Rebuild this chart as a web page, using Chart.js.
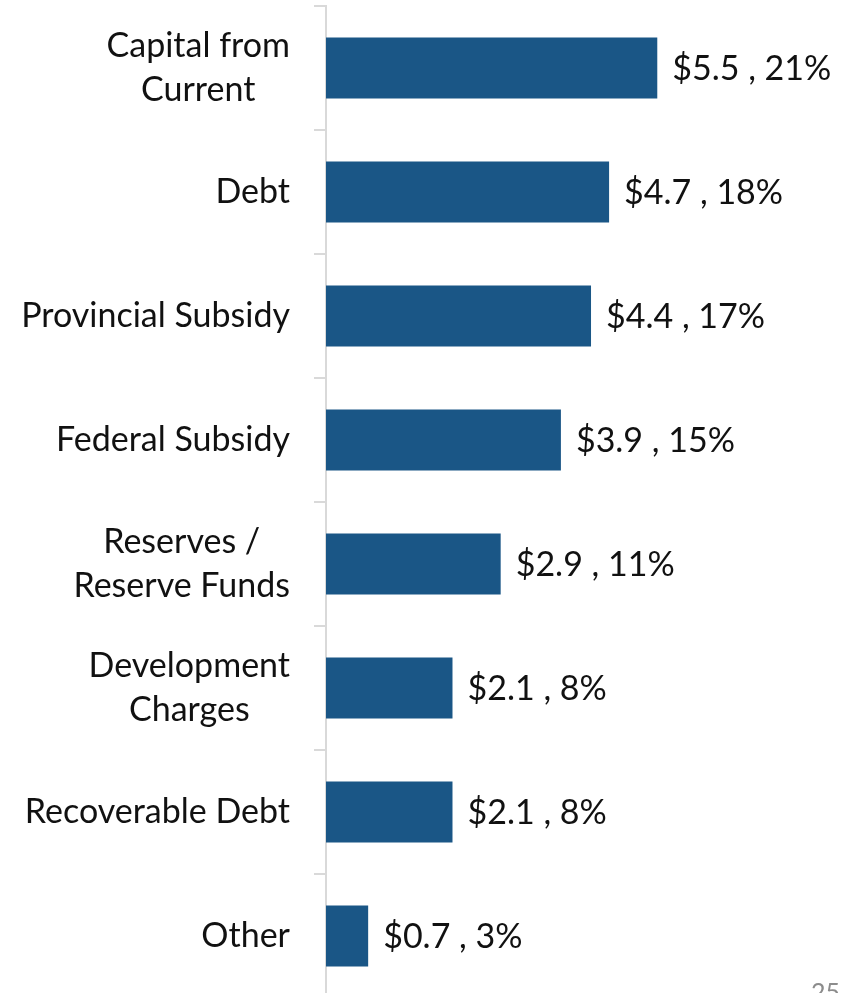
<!DOCTYPE html>
<html>
<head>
<meta charset="utf-8">
<script src="https://cdn.jsdelivr.net/npm/chart.js@4/dist/chart.umd.min.js"></script>
<style>
  html, body { margin: 0; padding: 0; background: #fff; overflow: hidden; width: 844px; height: 993px; }
  #wrap { position: absolute; left: 0; top: 0; width: 844px; height: 1000px; }
  #pageNo { position: absolute; left: 811px; top: 976px; font: 25px Lato, sans-serif; color: #8c8c8c; }
</style>
</head>
<body>
<div id="wrap"><canvas id="chart"></canvas></div>
<div id="pageNo">25</div>
<script>
// Capital funding sources ($ billions, share of total)
const categories = [
  ['Capital from', 'Current'],
  ['Debt'],
  ['Provincial Subsidy'],
  ['Federal Subsidy'],
  ['Reserves /', 'Reserve Funds'],
  ['Development', 'Charges'],
  ['Recoverable Debt'],
  ['Other']
];
const amounts = [5.5, 4.7, 4.4, 3.9, 2.9, 2.1, 2.1, 0.7];
const shares = [21, 18, 17, 15, 11, 8, 8, 3];

const FONT = 'Lato, "Open Sans", sans-serif';
const LABEL_SIZE = 34;
const LINE_H = 44;
const TICK_LEN = 12;
const LABEL_GAP = 24;

// Category names, each centred on its own widest line, right edge next to the tick marks
const categoryLabels = {
  id: 'categoryLabels',
  afterDraw(chart) {
    const { ctx } = chart;
    const y = chart.scales.y;
    ctx.save();
    ctx.font = `${LABEL_SIZE}px ${FONT}`;
    ctx.fillStyle = '#111';
    ctx.textAlign = 'center';
    ctx.textBaseline = 'middle';
    categories.forEach((lines, i) => {
      const cy = y.getPixelForTick(i);
      const widest = Math.max(...lines.map(l => ctx.measureText(l).width));
      const cx = y.right - TICK_LEN - LABEL_GAP - widest / 2;
      lines.forEach((line, j) => {
        ctx.fillText(line, cx, cy + (j - (lines.length - 1) / 2) * LINE_H);
      });
    });
    ctx.restore();
  }
};

// "$x , y%" beside each bar end
const valueLabels = {
  id: 'valueLabels',
  afterDatasetsDraw(chart) {
    const { ctx } = chart;
    const meta = chart.getDatasetMeta(0);
    ctx.save();
    ctx.font = `${LABEL_SIZE}px ${FONT}`;
    ctx.fillStyle = '#111';
    ctx.textAlign = 'left';
    ctx.textBaseline = 'middle';
    meta.data.forEach((bar, i) => {
      ctx.fillText(`$${amounts[i].toFixed(1)} , ${shares[i]}%`, bar.x + 15, bar.y + 1);
    });
    ctx.restore();
  }
};

new Chart(document.getElementById('chart'), {
  type: 'bar',
  data: {
    labels: categories.map(c => c.join(' ')),
    datasets: [{
      data: amounts,
      backgroundColor: '#1a5686',
      borderWidth: 0,
      categoryPercentage: 1,
      barPercentage: 0.49
    }]
  },
  options: {
    indexAxis: 'y',
    responsive: true,
    maintainAspectRatio: false,
    animation: false,
    layout: { padding: { top: 6, bottom: 2, left: 0, right: 0 } },
    plugins: { legend: { display: false }, tooltip: { enabled: false } },
    scales: {
      x: { display: false, min: 0, max: 8.6 },
      y: {
        afterFit(scale) { scale.width = 326; },
        grid: {
          display: true,
          offset: true,
          drawOnChartArea: false,
          drawTicks: true,
          tickLength: TICK_LEN,
          color: '#d9d9d9',
          lineWidth: 2
        },
        border: { display: true, color: '#d9d9d9', width: 2 },
        ticks: { display: false }
      }
    }
  },
  plugins: [categoryLabels, valueLabels]
});
</script>
</body>
</html>
